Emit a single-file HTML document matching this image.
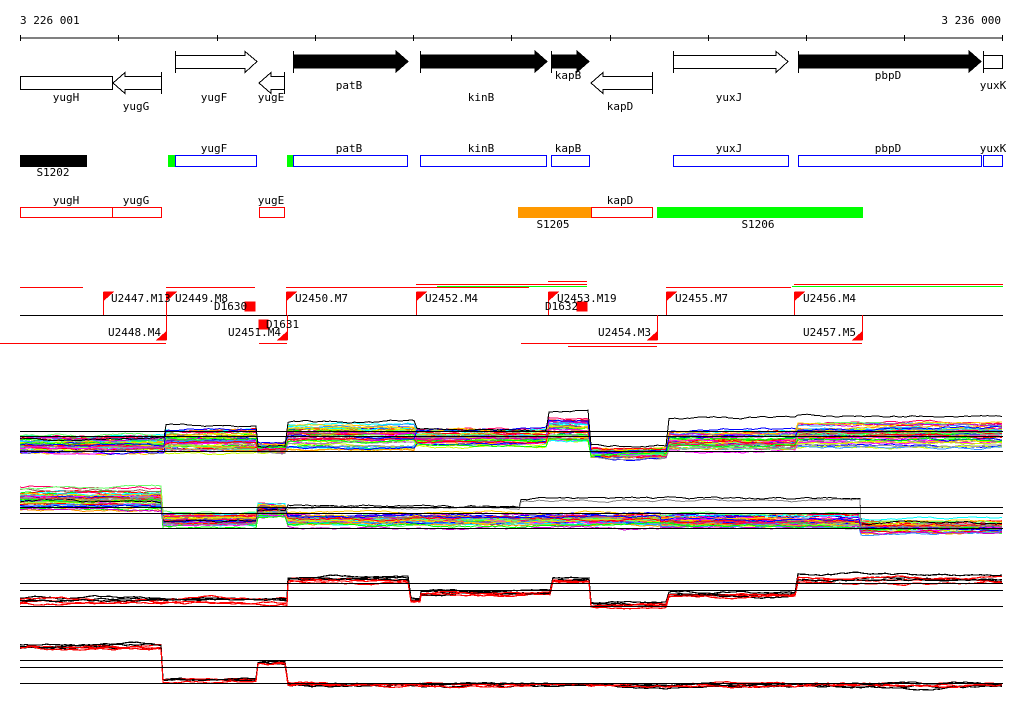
<!DOCTYPE html>
<html><head><meta charset="utf-8"><style>
html,body{margin:0;padding:0;background:#fff;}
svg{display:block;}
text{font-family:"DejaVu Sans Mono","Liberation Mono",monospace;font-size:11px;fill:#000;}
</style></head><body>
<svg id="s" width="1024" height="714" viewBox="0 0 1024 714" xmlns="http://www.w3.org/2000/svg" shape-rendering="crispEdges">
<text x="20" y="24">3 226 001</text>
<text x="1001" y="24" text-anchor="end">3 236 000</text>
<line x1="20" y1="38" x2="1003" y2="38" stroke="#000"/>
<g stroke="#000">
<line x1="20.5" y1="35" x2="20.5" y2="41"/><line x1="118.5" y1="35" x2="118.5" y2="41"/><line x1="217.5" y1="35" x2="217.5" y2="41"/><line x1="315.5" y1="35" x2="315.5" y2="41"/><line x1="413.5" y1="35" x2="413.5" y2="41"/><line x1="511.5" y1="35" x2="511.5" y2="41"/><line x1="610.5" y1="35" x2="610.5" y2="41"/><line x1="708.5" y1="35" x2="708.5" y2="41"/><line x1="806.5" y1="35" x2="806.5" y2="41"/><line x1="904.5" y1="35" x2="904.5" y2="41"/><line x1="1002.5" y1="35" x2="1002.5" y2="41"/>
</g>
<g stroke="#000" stroke-width="1">
<path d="M175.5,55.5 H245 V51.5 L257,61.5 L245,72.5 V68.5 H175.5Z" fill="#fff"/>
<line x1="175.5" y1="51" x2="175.5" y2="73"/>
<path d="M293.5,55 H396 V51 L408,61.5 L396,72 V68 H293.5Z" fill="#000"/>
<line x1="293.5" y1="51" x2="293.5" y2="73"/>
<path d="M420.5,55 H535 V51 L547,61.5 L535,72 V68 H420.5Z" fill="#000"/>
<line x1="420.5" y1="51" x2="420.5" y2="73"/>
<path d="M551.5,55 H577 V51 L589,61.5 L577,72 V68 H551.5Z" fill="#000"/>
<line x1="551.5" y1="51" x2="551.5" y2="73"/>
<path d="M673.5,55.5 H776 V51.5 L788,61.5 L776,72.5 V68.5 H673.5Z" fill="#fff"/>
<line x1="673.5" y1="51" x2="673.5" y2="73"/>
<path d="M798.5,55 H969 V51 L981,61.5 L969,72 V68 H798.5Z" fill="#000"/>
<line x1="798.5" y1="51" x2="798.5" y2="73"/>
<rect x="983.5" y="55.5" width="19" height="13" fill="#fff"/>
<line x1="983.5" y1="51" x2="983.5" y2="73"/>
<rect x="20.5" y="76.5" width="92" height="13" fill="#fff"/>
<path d="M161.5,76.5 H125 V72.5 L113,83 L125,93.5 V89.5 H161.5Z" fill="#fff"/>
<line x1="161.5" y1="72" x2="161.5" y2="94"/>
<path d="M284.5,76.5 H271 V72.5 L259,83 L271,93.5 V89.5 H284.5Z" fill="#fff"/>
<line x1="284.5" y1="72" x2="284.5" y2="94"/>
<path d="M652.5,76.5 H603 V72.5 L591,83 L603,93.5 V89.5 H652.5Z" fill="#fff"/>
<line x1="652.5" y1="72" x2="652.5" y2="94"/>
</g>
<g text-anchor="middle">
<text x="66" y="101">yugH</text><text x="136" y="110">yugG</text><text x="214" y="101">yugF</text><text x="271" y="101">yugE</text>
<text x="349" y="89">patB</text><text x="481" y="101">kinB</text><text x="568" y="79">kapB</text><text x="620" y="110">kapD</text>
<text x="729" y="101">yuxJ</text><text x="888" y="79">pbpD</text><text x="993" y="89">yuxK</text>
</g>
<rect x="20" y="155" width="67" height="12" fill="#000"/>
<text x="53" y="176" text-anchor="middle">S1202</text>
<rect x="168" y="155" width="7" height="12" fill="#00ff00"/>
<rect x="287" y="155" width="6" height="12" fill="#00ff00"/>
<g fill="none" stroke="#0000ff">
<rect x="175.5" y="155.5" width="81" height="11"/><rect x="293.5" y="155.5" width="114" height="11"/>
<rect x="420.5" y="155.5" width="126" height="11"/><rect x="551.5" y="155.5" width="38" height="11"/>
<rect x="673.5" y="155.5" width="115" height="11"/><rect x="798.5" y="155.5" width="183" height="11"/>
<rect x="983.5" y="155.5" width="19" height="11"/>
</g>
<g text-anchor="middle">
<text x="214" y="152">yugF</text><text x="349" y="152">patB</text><text x="481" y="152">kinB</text><text x="568" y="152">kapB</text>
<text x="729" y="152">yuxJ</text><text x="888" y="152">pbpD</text><text x="993" y="152">yuxK</text>
</g>
<rect x="518" y="207" width="73" height="11" fill="#ff9900"/>
<rect x="657" y="207" width="206" height="11" fill="#00ff00"/>
<g fill="none" stroke="#ff0000">
<rect x="20.5" y="207.5" width="92" height="10"/><rect x="112.5" y="207.5" width="49" height="10"/>
<rect x="259.5" y="207.5" width="25" height="10"/><rect x="591.5" y="207.5" width="61" height="10"/>
</g>
<g text-anchor="middle">
<text x="66" y="204">yugH</text><text x="136" y="204">yugG</text><text x="271" y="204">yugE</text><text x="620" y="204">kapD</text>
<text x="553" y="228">S1205</text><text x="758" y="228">S1206</text>
</g>
<g stroke="#ff0000">
<line x1="20" y1="287.5" x2="83" y2="287.5"/><line x1="166" y1="287.5" x2="255" y2="287.5"/>
<line x1="286" y1="287.5" x2="529" y2="287.5"/>
<line x1="416" y1="284.5" x2="587" y2="284.5"/><line x1="548" y1="281.5" x2="587" y2="281.5"/>
<line x1="666" y1="287.5" x2="791" y2="287.5"/><line x1="794" y1="284.5" x2="1003" y2="284.5"/>
<line x1="0" y1="343.5" x2="166" y2="343.5"/><line x1="259" y1="343.5" x2="287" y2="343.5"/>
<line x1="521" y1="343.5" x2="862" y2="343.5"/><line x1="568" y1="346.5" x2="657" y2="346.5"/>
</g>
<g stroke="#00ff00"><line x1="437" y1="286.5" x2="587" y2="286.5"/><line x1="792" y1="286.5" x2="1003" y2="286.5"/></g>
<line x1="20" y1="315.5" x2="1003" y2="315.5" stroke="#000"/>
<g stroke="#ff0000" fill="#ff0000">
<line x1="103.5" y1="292" x2="103.5" y2="315"/><path d="M104,292 H113 L104,300Z"/>
<line x1="166.5" y1="292" x2="166.5" y2="315"/><path d="M167,292 H176 L167,300Z"/>
<line x1="286.5" y1="292" x2="286.5" y2="315"/><path d="M287,292 H296 L287,300Z"/>
<line x1="416.5" y1="292" x2="416.5" y2="315"/><path d="M417,292 H426 L417,300Z"/>
<line x1="548.5" y1="292" x2="548.5" y2="315"/><path d="M549,292 H558 L549,300Z"/>
<line x1="666.5" y1="292" x2="666.5" y2="315"/><path d="M667,292 H676 L667,300Z"/>
<line x1="794.5" y1="292" x2="794.5" y2="315"/><path d="M795,292 H804 L795,300Z"/>
<line x1="166.5" y1="315" x2="166.5" y2="340"/><path d="M166,332 V340 H157Z"/>
<line x1="287.5" y1="315" x2="287.5" y2="340"/><path d="M287,332 V340 H278Z"/>
<line x1="657.5" y1="315" x2="657.5" y2="340"/><path d="M657,332 V340 H648Z"/>
<line x1="862.5" y1="315" x2="862.5" y2="340"/><path d="M862,332 V340 H853Z"/>
<rect x="245" y="302" width="10" height="9"/><rect x="259" y="320" width="9" height="9"/><rect x="577" y="302" width="10" height="9"/>
</g>
<text x="111" y="302">U2447.M13</text><text x="175" y="302">U2449.M8</text><text x="295" y="302">U2450.M7</text>
<text x="425" y="302">U2452.M4</text><text x="557" y="302">U2453.M19</text><text x="675" y="302">U2455.M7</text><text x="803" y="302">U2456.M4</text>
<text x="214" y="310">D1630</text><text x="545" y="310">D1632</text><text x="266" y="328">D1631</text>
<text x="108" y="336">U2448.M4</text><text x="228" y="336">U2451.M4</text><text x="598" y="336">U2454.M3</text><text x="803" y="336">U2457.M5</text>
<g id="plots"></g>
<g stroke="#000">
<line x1="20" y1="431.5" x2="1003" y2="431.5"/><line x1="20" y1="436.5" x2="1003" y2="436.5"/><line x1="20" y1="451.5" x2="1003" y2="451.5"/>
<line x1="20" y1="507.5" x2="1003" y2="507.5"/><line x1="20" y1="513.5" x2="1003" y2="513.5"/><line x1="20" y1="528.5" x2="1003" y2="528.5"/>
<line x1="20" y1="583.5" x2="1003" y2="583.5"/><line x1="20" y1="590.5" x2="1003" y2="590.5"/><line x1="20" y1="606.5" x2="1003" y2="606.5"/>
<line x1="20" y1="660.5" x2="1003" y2="660.5"/><line x1="20" y1="667.5" x2="1003" y2="667.5"/><line x1="20" y1="683.5" x2="1003" y2="683.5"/>
</g>
</svg>
<script>
(function(){
var seed=11;function r(){seed=(seed*16807)%2147483647;return seed/2147483647;}
var g=document.getElementById('plots');var NS='http://www.w3.org/2000/svg';
var pal=['#ff0000','#00ff00','#0000ff','#ff00ff','#00ffff','#ff9900','#ccff00','#999999','#996666','#ff0066','#3399ff','#66ff66','#cc00cc','#ffcc00'];
function panel(segs,n,colors,lw,mix){
 for(var i=0;i<n;i++){
  var og=r()*2-1; var col=colors[i%colors.length]; var pts=[]; var drift=0;
  for(var s=0;s<segs.length;s++){var sg=segs[s];
   var off=og*(1-mix)+(r()*2-1)*mix;
   for(var x=sg[0];x<=sg[1];x+=3){drift+=(r()-0.5)*1.6; drift*=0.92;
     var y=sg[2]+off*sg[3]+drift; pts.push(x+','+y.toFixed(1));}}
  var p=document.createElementNS(NS,'polyline');p.setAttribute('points',pts.join(' '));
  p.setAttribute('fill','none');p.setAttribute('stroke',col);p.setAttribute('stroke-width',lw);g.appendChild(p);}
}
panel([[20,165,444,10],[166,257,440,14],[258,287,448,7],[288,416,436,16],[417,548,437,12],[549,590,430,14],[591,668,453,6],[669,797,440,13],[798,1003,435,15]],45,pal,1,0.5);
panel([[20,162,498,15],[163,257,520,8],[258,287,510,8],[288,660,520,9],[661,860,522,9],[861,1003,527,8]],45,pal,1,0.5);
panel([[20,162,502,0],[163,257,521,0],[258,287,511,0],[288,520,506,0],[521,860,498,0],[861,1003,524,0]],1,['#000'],1,0);
panel([[20,162,498,0],[163,257,523,0],[258,287,512,0],[288,520,508,0],[521,860,500,0],[861,1003,526,0]],1,['#888'],1,0);
panel([[20,165,438,0],[166,257,425,0],[258,287,446,0],[288,416,422,0],[417,548,430,0],[549,590,411,0],[591,668,446,0],[669,797,418,0],[798,1003,416,0]],1,['#000'],1,0);
panel([[20,287,600,4],[288,410,579,3],[411,420,600,2],[421,552,593,3],[553,590,580,2],[591,668,604,3],[669,797,595,3],[798,1003,579,5]],6,['#000','#ff0000'],1.2,0.3);
panel([[20,162,648,5],[163,257,681,2],[258,287,664,2],[288,1003,686,3]],6,['#000','#ff0000'],1.2,0.3);
})();
</script>
</body></html>
